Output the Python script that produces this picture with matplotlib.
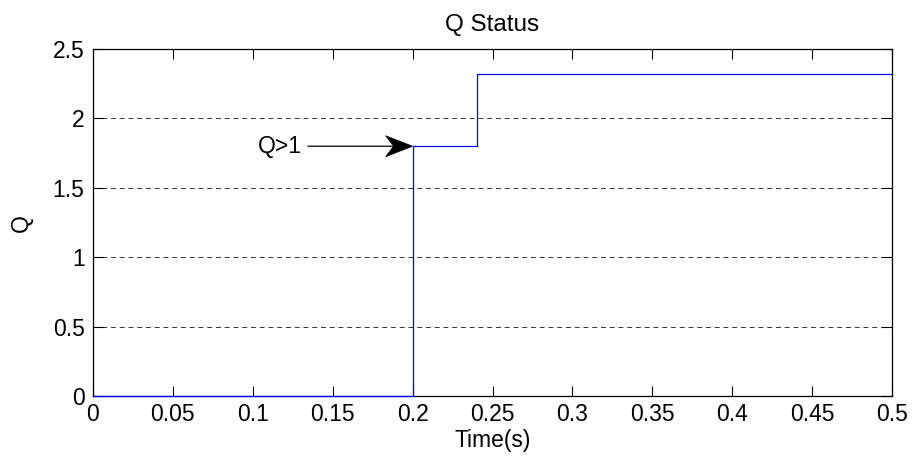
import matplotlib
matplotlib.use('Agg')
import matplotlib.pyplot as plt
import matplotlib.transforms as mtransforms
from matplotlib.patches import Polygon
import numpy as np

plt.rcParams['font.family'] = ['Liberation Sans', 'DejaVu Sans']

# step data
t = [0, 0.2, 0.24, 0.5]
q = [0, 1.8, 2.32, 2.32]

xticks = [0, 0.05, 0.1, 0.15, 0.2, 0.25, 0.3, 0.35, 0.4, 0.45, 0.5]
xtick_labels = ['0', '0.05', '0.1', '0.15', '0.2', '0.25', '0.3', '0.35', '0.4', '0.45', '0.5']
yticks = [0, 0.5, 1, 1.5, 2, 2.5]
ytick_labels = ['0', '0.5', '1', '1.5', '2', '2.5']

# annotation point
tip = (0.2, 1.8)

fig = plt.figure(figsize=(9.14, 4.65), dpi=100)
ax = fig.add_axes([0.1017, 0.148, 0.8743, 0.7466])

ax.step(t, q, where='post', color='#0000ff', lw=0.9, clip_on=False, zorder=3)

ax.set_xlim(0, 0.5)
ax.set_ylim(0, 2.5)
ax.set_xticks(xticks)
ax.set_xticklabels(xtick_labels)
ax.set_yticks(yticks)
ax.set_yticklabels(ytick_labels)
ax.tick_params(direction='in', top=True, right=True, labelsize=16.5, length=7, width=0.8)
ax.tick_params(axis='x', pad=5)
ax.tick_params(axis='y', pad=6)
ax.yaxis.grid(True, linestyle=(0, (5, 4)), color='#333333', lw=0.7)
ax.set_axisbelow(True)
for s in ax.spines.values():
    s.set_linewidth(0.9)

ax.set_title('Q Status', fontsize=17.5, pad=13)
ax.set_xlabel('Time(s)', fontsize=16.5, labelpad=2)
ax.set_ylabel('Q', fontsize=16.5, labelpad=14)

# text + shaft
ax.annotate('Q>1', xy=tip, xytext=(0.131, 1.8), fontsize=16.5, va='center', ha='right',
            arrowprops=dict(arrowstyle='-', color='black', lw=0.9, shrinkA=2, shrinkB=8))

# matlab-style notched arrow head, sized in inches around the tip
head_tr = fig.dpi_scale_trans + mtransforms.ScaledTranslation(tip[0], tip[1], ax.transData)
head = Polygon([(0, 0), (-0.27, 0.105), (-0.19, 0), (-0.27, -0.105)], closed=True,
               facecolor='black', edgecolor='black', lw=0.5, transform=head_tr, zorder=5)
ax.add_patch(head)

fig.savefig('out.png', dpi=100)
